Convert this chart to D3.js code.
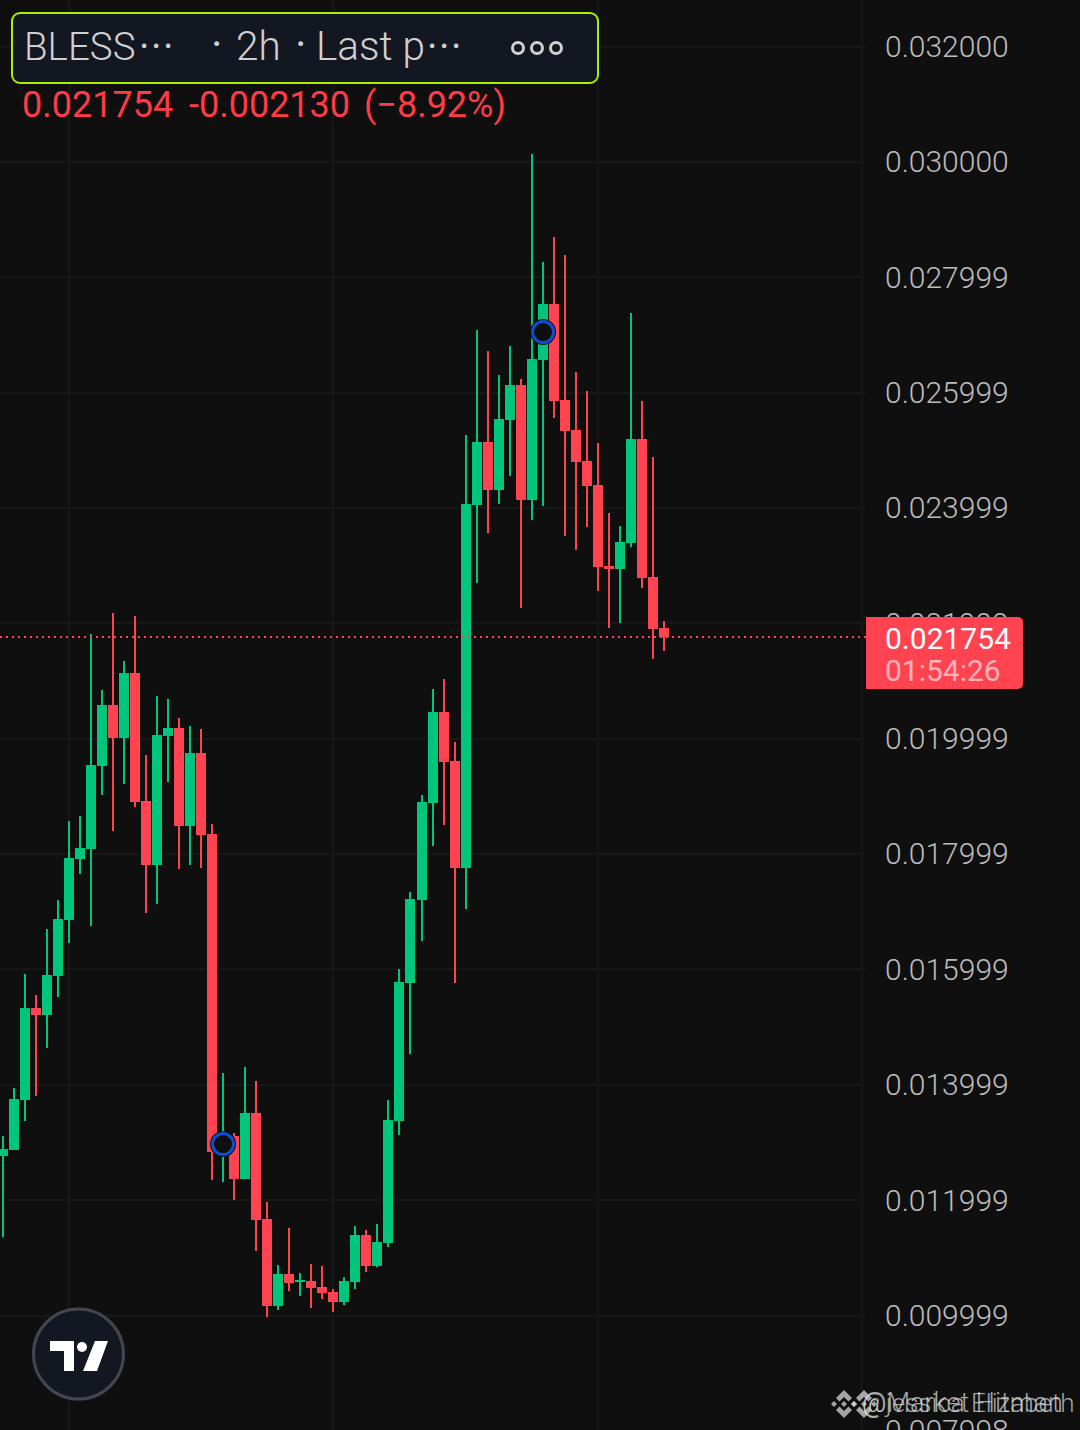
<!DOCTYPE html>
<html><head><meta charset="utf-8">
<script src="https://cdn.jsdelivr.net/npm/d3@7/dist/d3.min.js"></script>
<style>html,body{margin:0;padding:0;background:#0f0f0f}svg{display:block}text{font-family:Roboto,sans-serif}</style>
</head><body><div id="chart"></div>
<script>
const opens=[0.012764,0.012868,0.013735,0.015330,0.015209,0.015885,0.016856,0.017914,0.018087,0.019526,0.020583,0.020011,0.021138,0.018919,0.017809,0.020046,0.020185,0.018486,0.019751,0.018347,0.012868,0.013111,0.012366,0.013510,0.011672,0.010164,0.010719,0.010580,0.010597,0.010493,0.010407,0.010233,0.010580,0.011395,0.010857,0.011256,0.013371,0.015764,0.017203,0.018884,0.020462,0.019613,0.017758,0.024051,0.025143,0.024311,0.025524,0.026131,0.024137,0.026565,0.027536,0.025871,0.025351,0.024814,0.024398,0.022993,0.022941,0.023392,0.025195,0.022803,0.021918];
const closes=[0.012886,0.013753,0.015330,0.015209,0.015902,0.016873,0.017931,0.018104,0.019543,0.020583,0.020011,0.021138,0.018902,0.017809,0.020063,0.020185,0.018486,0.019751,0.018330,0.012834,0.013094,0.012366,0.013510,0.011655,0.010164,0.010719,0.010563,0.010615,0.010476,0.010389,0.010233,0.010597,0.011395,0.010857,0.011273,0.013389,0.015781,0.017220,0.018902,0.020462,0.019595,0.017758,0.024068,0.025143,0.024311,0.025542,0.026131,0.024137,0.026582,0.027536,0.025854,0.025334,0.024796,0.024380,0.022976,0.022941,0.023409,0.025195,0.022785,0.021901,0.021754];
const highs=[0.013111,0.013943,0.015920,0.015556,0.016700,0.017203,0.018572,0.018659,0.021814,0.020843,0.022178,0.021346,0.022126,0.019717,0.020739,0.020687,0.020358,0.020219,0.020167,0.018520,0.014203,0.013163,0.014307,0.014065,0.011967,0.010875,0.011516,0.010736,0.010892,0.010857,0.010459,0.010667,0.011551,0.011481,0.011586,0.013735,0.016006,0.017341,0.019023,0.020861,0.021034,0.019942,0.025264,0.027085,0.026721,0.026305,0.026807,0.026235,0.030136,0.028264,0.028697,0.028385,0.026357,0.026027,0.025126,0.023912,0.023687,0.027380,0.025854,0.024883,0.022040];
const lows=[0.011360,0.012868,0.013371,0.013805,0.014637,0.015521,0.016457,0.017653,0.016752,0.019023,0.018399,0.019214,0.018815,0.016977,0.017133,0.019248,0.017740,0.017809,0.017758,0.012348,0.012314,0.012002,0.012366,0.011117,0.009973,0.010095,0.010424,0.010337,0.010129,0.010285,0.010060,0.010181,0.010459,0.010753,0.010840,0.011187,0.013129,0.014533,0.016492,0.018139,0.018503,0.015764,0.017047,0.022699,0.023565,0.024068,0.024554,0.022265,0.023791,0.024033,0.025559,0.023513,0.023271,0.023669,0.022560,0.021918,0.022005,0.023323,0.022612,0.021381,0.021520];
const tickValues=[0.032,0.03,0.027999,0.025999,0.023999,0.021999,0.019999,0.017999,0.015999,0.013999,0.011999,0.009999,0.007998];
const verticalGridIndex=[6,30,54,78];
const markerIndex=[20,49];
const markerPrice=[0.012972,0.02705];
const lastPrice=0.021754;
const headerParts=["BLESS","\u00b7\u00b7\u00b7","\u00b7","2h","\u00b7","Last p","\u00b7\u00b7\u00b7"];
const quoteTexts=["0.021754","-0.002130","(\u22128.92%)"];
const countdown="01:54:26";
const watermarks=["@Market Hitman","@jessica Elizabeth"];

const W=1080,H=1430,BG="#0f0f0f",UP="#00c67c",DOWN="#ff4350",GRID="#171717",AXIS="#bcbcbc";
const svg=d3.select("#chart").append("svg").attr("width",W).attr("height",H);
svg.append("rect").attr("width",W).attr("height",H).attr("fill",BG);
const x=d3.scaleLinear().domain([0,60]).range([3,663.79]);
const y=d3.scaleLinear().domain([0.032,0.009999]).range([46.5,1315.5]);
const fx=v=>Math.round(x(v)),fy=v=>Math.round(y(v));

// grid
svg.append("g").selectAll("line").data(tickValues).join("line")
 .attr("x1",0).attr("x2",865).attr("y1",d=>fy(d)).attr("y2",d=>fy(d)).attr("stroke",GRID).attr("stroke-width",2);
svg.append("g").selectAll("line").data(verticalGridIndex).join("line")
 .attr("x1",d=>fx(d)).attr("x2",d=>fx(d)).attr("y1",0).attr("y2",H).attr("stroke",GRID).attr("stroke-width",2);

// axis labels
const axis=d3.axisRight(y).tickValues(tickValues).tickSize(0).tickPadding(0).tickFormat(d3.format(".6f"));
const ag=svg.append("g").attr("transform","translate(885,0)").call(axis);
ag.select(".domain").remove();
ag.selectAll("text").attr("x",0).attr("fill",AXIS).attr("font-size",30).attr("font-weight",300).attr("font-family","Roboto, sans-serif").attr("dy","0.33em");

// candles
const data=opens.map((o,i)=>({i,o,c:closes[i],h:highs[i],l:lows[i],up:closes[i]>=o}));
const cg=svg.append("g").attr("shape-rendering","crispEdges");
cg.selectAll("rect.w").data(data).join("rect").attr("class","w")
 .attr("x",d=>fx(d.i)-1).attr("width",2).attr("y",d=>fy(d.h)).attr("height",d=>fy(d.l)-fy(d.h)).attr("fill",d=>d.up?UP:DOWN);
cg.selectAll("rect.b").data(data).join("rect").attr("class","b")
 .attr("x",d=>fx(d.i)-5).attr("width",10).attr("y",d=>fy(Math.max(d.o,d.c))).attr("height",d=>Math.max(2,fy(Math.min(d.o,d.c))-fy(Math.max(d.o,d.c)))).attr("fill",d=>d.up?UP:DOWN);

// last price line
const lastY=Math.floor(y(lastPrice));
svg.append("line").attr("x1",0).attr("x2",866).attr("y1",lastY).attr("y2",lastY)
 .attr("stroke",DOWN).attr("stroke-width",2).attr("stroke-dasharray","2 4");

// markers
const mk=svg.append("g").selectAll("g").data(markerIndex).join("g").attr("transform",(d,i)=>`translate(${fx(d)},${y(markerPrice[i])})`);
mk.append("circle").attr("r",13).attr("fill","#0b0b0b");
mk.append("circle").attr("r",10.5).attr("fill",BG).attr("stroke","#0a4fd0").attr("stroke-width",3);

// price tag
const tagY=lastY-20;
svg.append("path").attr("d",`M866 ${tagY}H1018a5 5 0 0 1 5 5V${tagY+67}a5 5 0 0 1 -5 5H866Z`).attr("fill",DOWN);
svg.append("text").attr("x",885).attr("y",tagY+32).attr("font-size",30).attr("fill","#fff").text(d3.format(".6f")(lastPrice));
svg.append("text").attr("x",885).attr("y",tagY+64).attr("font-size",30).attr("fill","#fff").attr("fill-opacity",0.6).text(countdown);

// header
svg.append("rect").attr("x",12).attr("y",13).attr("width",586).attr("height",70).attr("rx",8)
 .attr("fill","#131722").attr("stroke","#a8f000").attr("stroke-width",2);
const headerX=[24,139,211,236,295,316,427],headerSize=[38.5,40,44,40.5,44,40.5,40],headerWeight=[300,400,400,300,400,300,400],headerSpacing=[0,1.5,0,0,0,0,1.5];
svg.append("g").selectAll("text").data(headerParts).join("text")
 .attr("x",(d,i)=>headerX[i]).attr("y",60).attr("font-size",(d,i)=>headerSize[i]).attr("font-weight",(d,i)=>headerWeight[i])
 .attr("letter-spacing",(d,i)=>headerSpacing[i]).attr("fill","#d0d0d0").text(d=>d);
svg.append("g").selectAll("circle").data([0,1,2]).join("circle").attr("cx",d=>518+19*d).attr("cy",48).attr("r",5.5)
 .attr("fill","none").attr("stroke","#d0d0d0").attr("stroke-width",3);
const qx=[22,189,364];
svg.append("g").selectAll("text").data(quoteTexts).join("text").attr("x",(d,i)=>qx[i]).attr("y",117)
 .attr("font-size",36).attr("font-weight",400).attr("fill","#ff3b46").text(d=>d);

// logo
const logo=svg.append("g");
logo.append("circle").attr("cx",78.5).attr("cy",1354).attr("r",45).attr("fill","#131722").attr("stroke","#434651").attr("stroke-width",3);
logo.append("path").attr("fill","#fff").attr("d","M50 1341H74V1371H64V1351H50ZM95 1341H108L97 1371H83Z");
logo.append("circle").attr("cx",82).attr("cy",1347).attr("r",5).attr("fill","#fff");

// watermark
const wm=svg.append("g").attr("fill","#d8d8d8").attr("fill-opacity",0.75);
[844,864].forEach(cx=>{
 wm.append("path").attr("d",`M${cx} 1390l8 8-3.5 3.5-4.5-4.5-4.5 4.5-3.5-3.5ZM${cx} 1418l8-8-3.5-3.5-4.5 4.5-4.5-4.5-3.5 3.5ZM${cx-13} 1404l3-3 3 3-3 3ZM${cx+13} 1404l-3-3-3 3 3 3ZM${cx} 1401l3 3-3 3-3-3Z`);
});
wm.append("text").attr("x",862).attr("y",1412).attr("font-size",27).attr("font-weight",300).text(watermarks[0]);
wm.append("text").attr("x",862).attr("y",1412).attr("font-size",26).attr("font-weight",300).text(watermarks[1]);
</script></body></html>
